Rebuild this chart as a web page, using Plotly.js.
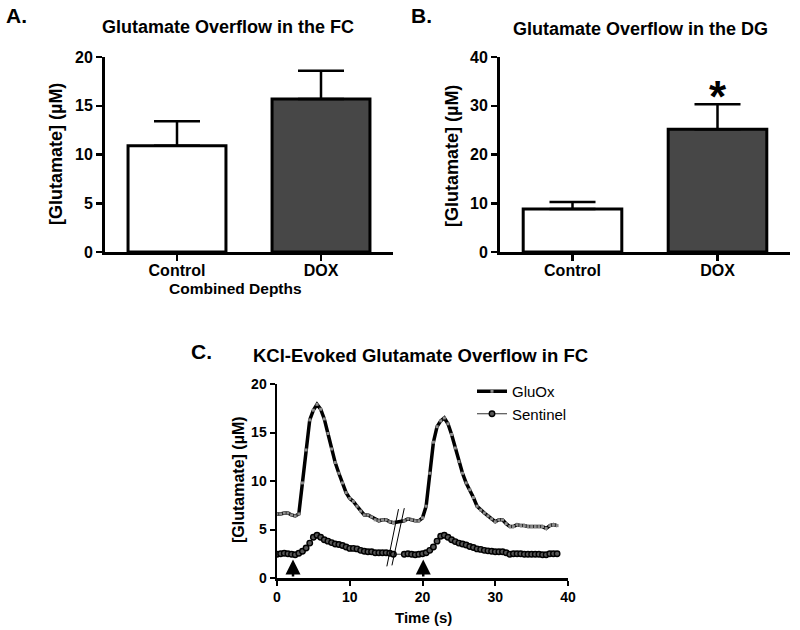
<!DOCTYPE html>
<html>
<head>
<meta charset="utf-8">
<script src="https://cdn.plot.ly/plotly-3.0.1.min.js"></script>
<style>html,body{margin:0;padding:0;background:#fff;}#chart{width:800px;height:630px;}</style>
</head>
<body>
<div id="chart"></div>
<script>
// ---- Data ----
const categories = ['Control', 'DOX'];
const fcMean = [10.9, 15.7];
const fcSem = [2.5, 2.9];
const dgMean = [8.8, 25.2];
const dgSem = [1.45, 5.1];

const timeS = [0, 0.5, 1.0, 1.5, 2.0, 2.5, 3.0, 3.5, 4.0, 4.5, 5.0, 5.5, 6.0, 6.5, 7.0, 7.5, 8.0, 8.5, 9.0, 9.5,
  10.0, 10.5, 11.0, 11.5, 12.0, 12.5, 13.0, 13.5, 14.0, 14.5, 15.0, 15.5, 16.0,
  17.5, 18.0, 18.5, 19.0, 19.5, 20.0, 20.5, 21.0, 21.5, 22.0, 22.5, 23.0, 23.5, 24.0, 24.5, 25.0, 25.5, 26.0, 26.5,
  27.0, 27.5, 28.0, 28.5, 29.0, 29.5, 30.0, 30.5, 31.0, 31.5, 32.0, 32.5, 33.0, 33.5, 34.0, 34.5, 35.0, 35.5, 36.0,
  36.5, 37.0, 37.5, 38.0, 38.5];
const gluox = [6.6, 6.6, 6.7, 6.7, 6.5, 6.4, 6.6, 9.8, 13.2, 16.3, 17.3, 17.9, 17.4, 16.4, 14.9, 13.3, 11.9, 10.8, 9.8, 8.8,
  8.2, 7.9, 7.4, 6.9, 6.5, 6.5, 6.3, 6.0, 5.9, 6.0, 6.0, 5.8, 5.7,
  5.9, 6.1, 6.0, 5.9, 5.9, 6.2, 7.4, 10.8, 14.0, 15.6, 16.2, 16.5, 15.9, 14.8, 13.4, 12.0, 10.8, 9.8, 9.1,
  8.3, 7.4, 7.0, 6.7, 6.4, 6.1, 5.8, 6.0, 6.0, 5.6, 5.3, 5.3, 5.5, 5.4, 5.4, 5.3, 5.3, 5.3, 5.3,
  5.3, 5.1, 5.4, 5.5, 5.4];
const sentinel = [2.45, 2.5, 2.55, 2.5, 2.45, 2.4, 2.55, 2.75, 3.1, 3.6, 4.2, 4.4, 4.2, 3.95, 3.8, 3.65, 3.5, 3.45, 3.35, 3.2,
  3.05, 3.05, 3.0, 2.85, 2.75, 2.7, 2.7, 2.6, 2.6, 2.6, 2.6, 2.55, 2.45,
  2.45, 2.5, 2.45, 2.4, 2.45, 2.5, 2.6, 2.85, 3.2, 3.8, 4.3, 4.4, 4.2, 3.95, 3.75, 3.6, 3.5, 3.4, 3.25,
  3.15, 3.0, 2.95, 2.85, 2.8, 2.75, 2.7, 2.7, 2.7, 2.6, 2.45, 2.5, 2.5, 2.5, 2.45, 2.45, 2.45, 2.45, 2.45,
  2.4, 2.4, 2.5, 2.5, 2.5];

const kclTimes = [2.2, 20.1];      // KCl application arrows
const arrowTip = 1.9;
const breakX1 = [15.1, 16.7];      // axis-break marks
const breakY1 = [1.2, 7.1];
const breakX2 = [15.8, 17.5];
const breakY2 = [1.3, 7.2];

const barTicksA = [0, 5, 10, 15, 20];
const barTicksB = [0, 10, 20, 30, 40];
const timeTicks = [0, 10, 20, 30, 40];
const concTicks = [0, 5, 10, 15, 20];

// ---- Styling ----
const FONT = 'Liberation Sans, Arial, Helvetica, sans-serif';
const bold = (s) => ({family: FONT, size: s, color: '#000', weight: 'bold'});
const barColors = ['#ffffff', '#474747'];

function barTrace(y, err, xa, ya) {
  return {
    type: 'bar', x: categories, y: y, xaxis: xa, yaxis: ya, width: 0.68,
    marker: {color: barColors, line: {color: '#000', width: 3}},
    error_y: {type: 'data', symmetric: false, array: err, arrayminus: [0, 0],
      color: '#000', thickness: 2.5, width: 23},
    showlegend: false, hoverinfo: 'x+y'
  };
}

const traces = [
  barTrace(fcMean, fcSem, 'x', 'y'),
  barTrace(dgMean, dgSem, 'x2', 'y2'),
  {type: 'scatter', mode: 'lines+markers', name: 'GluOx', x: timeS, y: gluox, xaxis: 'x3', yaxis: 'y3',
    line: {color: '#000', width: 3.5}, marker: {symbol: 'square', size: 3, color: '#8c8c8c'}},
  {type: 'scatter', mode: 'lines+markers', name: 'Sentinel', x: timeS, y: sentinel, xaxis: 'x3', yaxis: 'y3',
    line: {color: '#333', width: 1}, marker: {symbol: 'circle', size: 5.5, color: '#575757', line: {color: '#000', width: 1.4}}}
];

function axisBase(extra) {
  return Object.assign({
    showline: true, linecolor: '#000', linewidth: 3, ticks: 'outside', ticklen: 6, tickwidth: 2.5,
    tickcolor: '#000', showgrid: false, zeroline: false, fixedrange: true, tickfont: bold(16)
  }, extra);
}

const px = (v) => v / 800;
const py = (v) => 1 - v / 630;
const label = (text, x, y, size, angle) => ({text: text, xref: 'paper', yref: 'paper', x: px(x), y: py(y),
  xanchor: 'center', yanchor: 'middle', showarrow: false, font: bold(size), textangle: angle || 0});

const layout = {
  width: 800, height: 630,
  margin: {l: 0, r: 0, t: 0, b: 0},
  paper_bgcolor: '#fff', plot_bgcolor: '#fff',
  font: {family: FONT, color: '#000'},
  xaxis: axisBase({domain: [px(105), px(393)], anchor: 'y', type: 'category', range: [-0.5, 1.5], ticklabelstandoff: -4}),
  yaxis: axisBase({domain: [py(252), py(57)], anchor: 'x', range: [0, 20], tickvals: barTicksA}),
  xaxis2: axisBase({domain: [px(500), px(790)], anchor: 'y2', type: 'category', range: [-0.5, 1.5], ticklabelstandoff: -4}),
  yaxis2: axisBase({domain: [py(252), py(57)], anchor: 'x2', range: [0, 40], tickvals: barTicksB}),
  xaxis3: axisBase({domain: [px(277), px(568)], anchor: 'y3', range: [0, 40], tickvals: timeTicks,
    linewidth: 2.5, ticklen: 5, tickwidth: 2, tickfont: bold(14)}),
  yaxis3: axisBase({domain: [py(578), py(384)], anchor: 'x3', range: [0, 20], tickvals: concTicks,
    linewidth: 2.5, ticklen: 5, tickwidth: 2, tickfont: bold(14)}),
  showlegend: true,
  legend: {x: px(472), y: py(375), xanchor: 'left', yanchor: 'top', bgcolor: 'rgba(0,0,0,0)',
    font: {family: FONT, size: 15, color: '#000'}, tracegroupgap: 0},
  shapes: [
    {type: 'line', xref: 'x3', yref: 'y3', x0: breakX1[0], y0: breakY1[0], x1: breakX1[1], y1: breakY1[1], line: {color: '#000', width: 1}},
    {type: 'line', xref: 'x3', yref: 'y3', x0: breakX2[0], y0: breakY2[0], x1: breakX2[1], y1: breakY2[1], line: {color: '#000', width: 1}}
  ],
  annotations: [
    {text: 'A.', xref: 'paper', yref: 'paper', x: px(4), y: py(15), xanchor: 'left', yanchor: 'middle', showarrow: false, font: bold(21)},
    {text: 'B.', xref: 'paper', yref: 'paper', x: px(409), y: py(15), xanchor: 'left', yanchor: 'middle', showarrow: false, font: bold(21)},
    {text: 'C.', xref: 'paper', yref: 'paper', x: px(189), y: py(351), xanchor: 'left', yanchor: 'middle', showarrow: false, font: bold(21)},
    label('Glutamate Overflow in the FC', 228, 27, 18),
    label('Glutamate Overflow in the DG', 640, 29, 18),
    label('KCl-Evoked Glutamate Overflow in FC', 420, 355, 18.5),
    label('[Glutamate] (µM)', 56, 154, 18, -90),
    label('[Glutamate] (µM)', 452, 156, 18, -90),
    label('[Glutamate] (µM)', 238, 480, 16, -90),
    label('Combined Depths', 235, 288.5, 15.5),
    label('Time (s)', 423, 617, 15),
    {text: '*', xref: 'x2', yref: 'y2', x: 'DOX', y: 31.8, xanchor: 'center', yanchor: 'middle', showarrow: false, font: bold(44)}
  ].concat(kclTimes.map(t => ({
    text: '', xref: 'x3', yref: 'y3', x: t, y: arrowTip, axref: 'x3', ayref: 'y3', ax: t, ay: 0,
    showarrow: true, arrowhead: 2, arrowsize: 1.2, arrowwidth: 2.5, arrowcolor: '#000', standoff: 0, startstandoff: 0
  })))
};

Plotly.newPlot('chart', traces, layout, {staticPlot: true, displayModeBar: false});
</script>
</body>
</html>
